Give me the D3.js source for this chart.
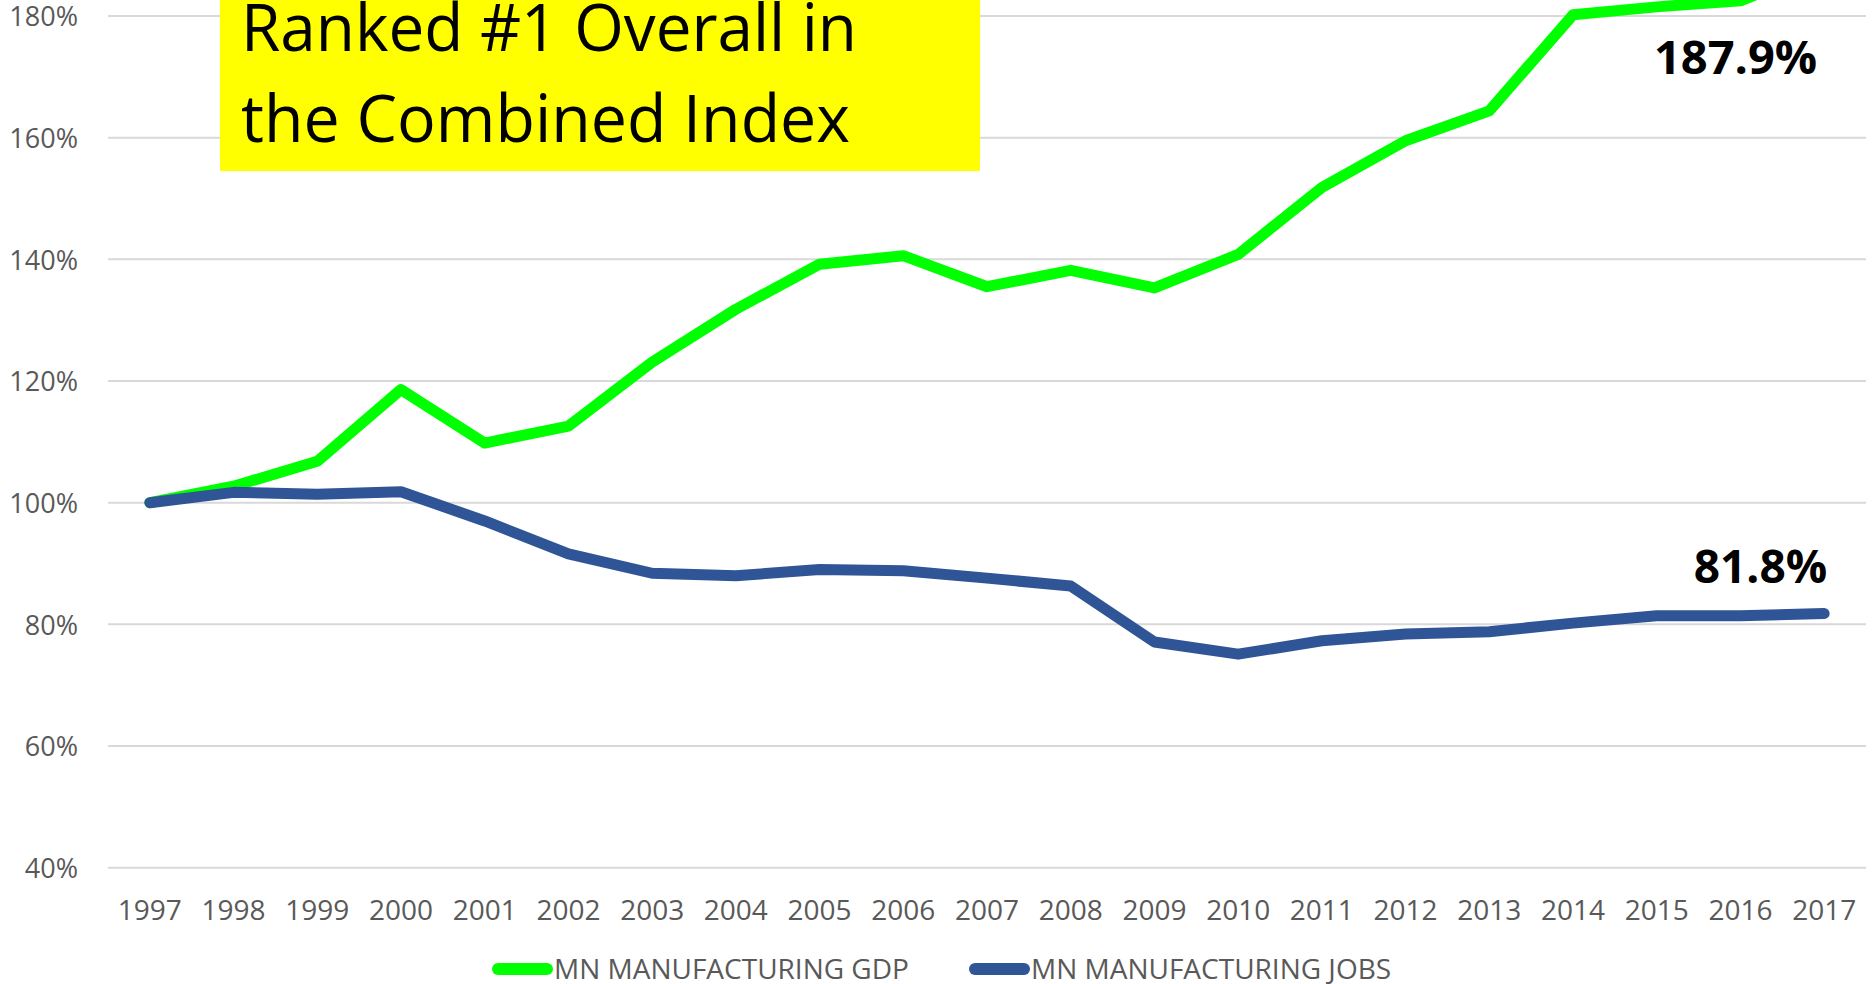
<!DOCTYPE html>
<html>
<head>
<meta charset="utf-8">
<script src="https://cdn.jsdelivr.net/npm/d3@7"></script>
<style>
  html, body { margin: 0; padding: 0; background: #fff; }
  svg { display: block; }
  text { font-family: "Open Sans", "Noto Sans", sans-serif; }
</style>
</head>
<body>
<svg id="chart" width="1872" height="984"></svg>
<script>
// Minnesota manufacturing, indexed to 1997 = 100%
const years = ["1997","1998","1999","2000","2001","2002","2003","2004","2005","2006",
               "2007","2008","2009","2010","2011","2012","2013","2014","2015","2016","2017"];
const gdpIndex = [100, 102.7, 106.8, 118.6, 109.8, 112.6, 123.1, 131.8, 139.2, 140.6,
                  135.5, 138.2, 135.3, 140.8, 151.8, 159.5, 164.4, 180.2, 181.5, 182.5, 187.9];
const jobsIndex = [100, 101.7, 101.4, 101.8, 97.0, 91.6, 88.4, 88.0, 89.0, 88.8,
                   87.6, 86.3, 77.1, 75.1, 77.3, 78.4, 78.8, 80.2, 81.4, 81.4, 81.8];
const yTicks = [40, 60, 80, 100, 120, 140, 160, 180];
const seriesNames = ["MN MANUFACTURING GDP", "MN MANUFACTURING JOBS"];
const titleLines = ["Ranked #1 Overall in", "the Combined Index"];

const GREEN = "#00FF00", BLUE = "#2F5597", GRID = "#D9D9D9", AXIS_TEXT = "#595959";

const svg = d3.select("#chart");

const x = d3.scaleBand().domain(years).range([108, 1866]);
const xc = d => x(d) + x.bandwidth() / 2;
const y = d3.scaleLinear().domain([40, 180]).range([867.7, 16]);

// horizontal gridlines
svg.append("g").selectAll("line").data(yTicks).join("line")
  .attr("x1", 108).attr("x2", 1866)
  .attr("y1", d => y(d)).attr("y2", d => y(d))
  .attr("stroke", GRID).attr("stroke-width", 2);

// y axis labels
const yAxis = d3.axisLeft(y).tickValues(yTicks).tickFormat(d => d + "%").tickSize(0).tickPadding(0);
const gy = svg.append("g").attr("transform", "translate(78,0)").call(yAxis);
gy.select(".domain").remove();
gy.selectAll("text").attr("fill", AXIS_TEXT).attr("font-size", 27)
  .attr("font-family", "'Open Sans', sans-serif").attr("dy", "0.36em");

// x axis labels
const xAxis = d3.axisBottom(x).tickSize(0).tickPadding(0);
const gx = svg.append("g").attr("transform", "translate(0,920)").call(xAxis);
gx.select(".domain").remove();
gx.selectAll("text").attr("fill", AXIS_TEXT).attr("font-size", 28)
  .attr("font-family", "'Open Sans', sans-serif").attr("dy", 0);

// series lines
const line = d3.line().x((d, i) => xc(years[i])).y(d => y(d));
svg.append("path").datum(gdpIndex).attr("d", line)
  .attr("fill", "none").attr("stroke", GREEN).attr("stroke-width", 11)
  .attr("stroke-linejoin", "round").attr("stroke-linecap", "round");
svg.append("path").datum(jobsIndex).attr("d", line)
  .attr("fill", "none").attr("stroke", BLUE).attr("stroke-width", 11)
  .attr("stroke-linejoin", "round").attr("stroke-linecap", "round");

// end-value labels
const last = years.length - 1;
const fmt = v => v.toFixed(1) + "%";
svg.append("text").attr("x", xc(years[last]) - 7).attr("y", 74)
  .attr("text-anchor", "end").attr("font-weight", 700).attr("font-size", 47)
  .attr("fill", "#000").text(fmt(gdpIndex[last]));
svg.append("text").attr("x", xc(years[last]) + 3).attr("y", y(jobsIndex[last]) - 30)
  .attr("text-anchor", "end").attr("font-weight", 700).attr("font-size", 46)
  .attr("fill", "#000").text(fmt(jobsIndex[last]));

// title callout
svg.append("rect").attr("x", 220).attr("y", 0).attr("width", 760).attr("height", 171)
  .attr("fill", "#FFFF00");
const titleWidths = [616, 609];
svg.append("g").selectAll("text").data(titleLines).join("text")
  .attr("x", 241).attr("y", (d, i) => 51 + i * 91)
  .attr("font-size", 65).attr("fill", "#000")
  .attr("textLength", (d, i) => titleWidths[i]).attr("lengthAdjust", "spacingAndGlyphs")
  .text(d => d);

// legend
const legend = svg.append("g");
const legendItems = [
  { name: seriesNames[0], color: GREEN, x0: 498 },
  { name: seriesNames[1], color: BLUE, x0: 975 }
];
legendItems.forEach(it => {
  legend.append("line").attr("x1", it.x0).attr("x2", it.x0 + 49)
    .attr("y1", 969).attr("y2", 969)
    .attr("stroke", it.color).attr("stroke-width", 12).attr("stroke-linecap", "round");
  legend.append("text").attr("x", it.x0 + 56).attr("y", 979)
    .attr("font-size", 28).attr("fill", AXIS_TEXT).text(it.name);
});
</script>
</body>
</html>
